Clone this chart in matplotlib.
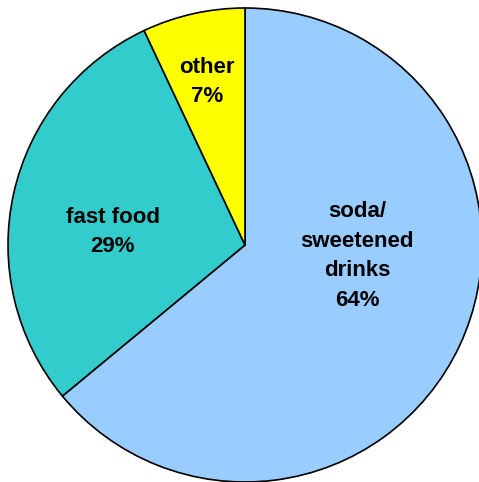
import matplotlib
matplotlib.use('Agg')
import matplotlib.pyplot as plt

labels = ['soda/\nsweetened\ndrinks', 'fast food', 'other']
values = [64, 29, 7]
colors = ['#99CCFF', '#33CCCC', '#FFFF00']
# label centres in pie radius units
label_pos = [(0.473, -0.046), (-0.557, 0.055), (-0.16, 0.688)]

W, H = 479, 482
cx, cy, r = 245, 245, 237

fig = plt.figure(figsize=(W / 100, H / 100), dpi=100)
fig.patch.set_facecolor('white')
ax = fig.add_axes([(cx - r) / W, (H - cy - r) / H, 2 * r / W, 2 * r / H])

wedges, _ = ax.pie(values, colors=colors, startangle=90, counterclock=False,
                   wedgeprops=dict(edgecolor='black', linewidth=1.2))
for w in wedges:
    w.set_clip_on(False)

for lab, v, (x, y) in zip(labels, values, label_pos):
    ax.text(x, y, f'{lab}\n{v}%', ha='center', va='center',
            fontsize=16, fontweight='bold', family='Liberation Sans',
            linespacing=1.53, color='black')

ax.set_xlim(-1, 1)
ax.set_ylim(-1, 1)
ax.set_aspect('auto')
ax.axis('off')

fig.savefig('out.png', dpi=100)
